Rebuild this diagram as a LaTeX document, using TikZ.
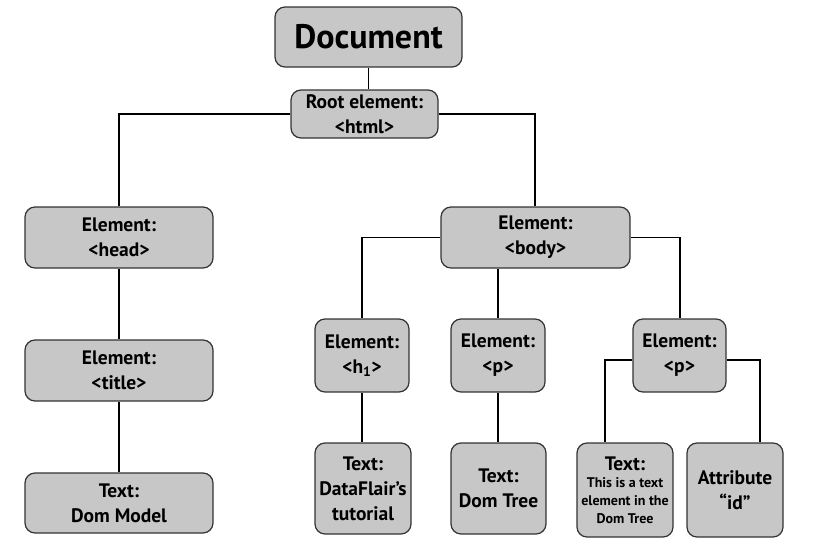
\documentclass[tikz,border=0pt]{standalone}
\usepackage{fontspec}
\setmainfont{PT Sans}
\begin{document}
\begin{tikzpicture}[x=1pt,y=-1pt,
  box/.style={draw=black!80, line width=1.2pt, fill=black!22, rounded corners=10pt,
    inner sep=0pt, align=center, font=\bfseries\fontsize{19.5}{25}\selectfont},
  conn/.style={line width=1.5pt, black}]
\useasboundingbox (0,0) rectangle (814,546);
\node[box, minimum width=187pt, minimum height=60pt, font=\bfseries\fontsize{34}{38}\selectfont] (doc) at (368.5,37) {Document};
\node[box, minimum width=147pt, minimum height=48pt] (root) at (364.5,114) {Root element:\\<html>};
\node[box, minimum width=188pt, minimum height=61pt] (head) at (119,237.5) {Element:\\<head>};
\node[box, minimum width=189pt, minimum height=61pt] (body) at (535.5,237.5) {Element:\\<body>};
\node[box, minimum width=188pt, minimum height=61pt] (title) at (119,370.5) {Element:\\<title>};
\node[box, minimum width=188pt, minimum height=60pt] (dom) at (119,503) {Text:\\Dom Model};
\node[box, minimum width=94pt, minimum height=73pt] (h1) at (362,355.5) {Element:\\<h\textsubscript{1}>};
\node[box, minimum width=94pt, minimum height=73pt] (p1) at (498,355.5) {Element:\\<p>};
\node[box, minimum width=93pt, minimum height=73pt] (p2) at (679.5,355.5) {Element:\\<p>};
\node[box, minimum width=96pt, minimum height=91pt] (df) at (363,488.5) {Text:\\DataFlair’s\\tutorial};
\node[box, minimum width=95pt, minimum height=91pt] (dt) at (498.5,488.5) {Text:\\Dom Tree};
\node[box, minimum width=96pt, minimum height=94pt, font=\bfseries\fontsize{19.5}{18}\selectfont] (te) at (625,490) {Text:\\[-1pt]{\fontsize{14}{17}\selectfont This is a text}\\{\fontsize{14}{17}\selectfont element in the}\\{\fontsize{14}{17}\selectfont Dom Tree}};
\node[box, minimum width=96pt, minimum height=94pt] (attr) at (735,490) {Attribute\\“id”};
\coordinate (rl) at (119,114);
\coordinate (rr) at (535,114);
\coordinate (bl) at (362,237.5);
\coordinate (br) at (680,237.5);
\coordinate (pl) at (605,360);
\coordinate (pr) at (760,360);
\draw[conn] (doc.south) -- (doc.south |- root.north);
\draw[conn] (root.west |- rl) -- (rl) -- (rl |- head.north);
\draw[conn] (root.east |- rr) -- (rr) -- (rr |- body.north);
\draw[conn] (head) -- (title);
\draw[conn] (title) -- (dom);
\draw[conn] (body.west |- bl) -- (bl) -- (bl |- h1.north);
\draw[conn] (p1.north |- body.south) -- (p1.north);
\draw[conn] (body.east |- br) -- (br) -- (br |- p2.north);
\draw[conn] (h1.south) -- (h1.south |- df.north);
\draw[conn] (p1.south) -- (p1.south |- dt.north);
\draw[conn] (p2.west |- pl) -- (pl) -- (pl |- te.north);
\draw[conn] (p2.east |- pr) -- (pr) -- (pr |- attr.north);
\end{tikzpicture}
\end{document}
